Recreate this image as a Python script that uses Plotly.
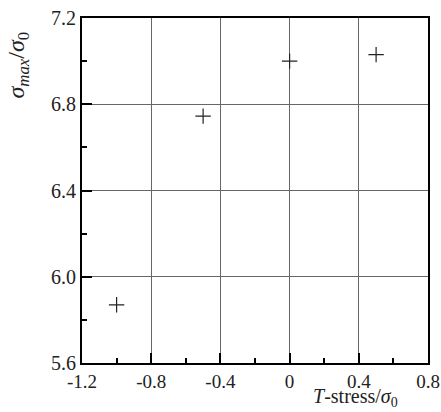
import plotly.graph_objects as go

t_stress = [-1.0, -0.5, 0.0, 0.5]
sigma_max = [5.87, 6.745, 7.0, 7.03]

x_tickvals = [-1.2, -0.8, -0.4, 0.0, 0.4, 0.8]
x_ticktext = ["-1.2", "-0.8", "-0.4", "0", "0.4", "0.8"]
y_tickvals = [5.6, 6.0, 6.4, 6.8, 7.2]
y_ticktext = ["5.6", "6.0", "6.4", "6.8", "7.2"]

font_family = "Liberation Serif"

fig = go.Figure()
fig.add_trace(go.Scatter(
    x=t_stress, y=sigma_max, mode="markers",
    marker=dict(symbol="cross-thin", size=11, line=dict(width=1.2, color="#222")),
    showlegend=False,
))

axis_common = dict(
    showline=True, linecolor="black", linewidth=2, mirror=True,
    ticks="inside", ticklen=10, tickwidth=2, tickcolor="black",
    showgrid=True, gridcolor="#666", gridwidth=1,
    zeroline=False, automargin=False,
    tickfont=dict(family=font_family, size=20, color="#222"),
)

fig.update_xaxes(
    range=[-1.2, 0.8], tickvals=x_tickvals, ticktext=x_ticktext,
    tickfont=dict(family=font_family, size=19, color="#222"),
    minor=dict(tickvals=[-1.0, -0.6, -0.2, 0.2, 0.6], ticks="inside", ticklen=5,
               tickwidth=2, tickcolor="black", showgrid=False),
    **{k: v for k, v in axis_common.items() if k != "tickfont"},
)
fig.update_yaxes(
    range=[5.6, 7.2], tickvals=y_tickvals, ticktext=y_ticktext,
    minor=dict(tickvals=[5.8, 6.2, 6.6, 7.0], ticks="inside", ticklen=5,
               tickwidth=2, tickcolor="black", showgrid=False),
    **axis_common,
)

fig.add_annotation(
    text="<i>σ</i><sub><i>max</i></sub>/<i>σ</i><sub>0</sub>",
    xref="paper", yref="paper", x=-0.185, y=0.865, xanchor="center", yanchor="middle",
    textangle=-90, showarrow=False,
    font=dict(family=font_family, size=24, color="#222"),
)
fig.add_annotation(
    text="<i>T</i>-stress/<i>σ</i><sub>0</sub>",
    xref="paper", yref="paper", x=0.79, y=-0.142, xanchor="center", yanchor="bottom",
    showarrow=False,
    font=dict(family=font_family, size=20, color="#222"),
)

fig.update_layout(
    width=441, height=412,
    margin=dict(l=82, r=13, t=18, b=49),
    paper_bgcolor="white", plot_bgcolor="white",
)

fig.write_html("out.html")
